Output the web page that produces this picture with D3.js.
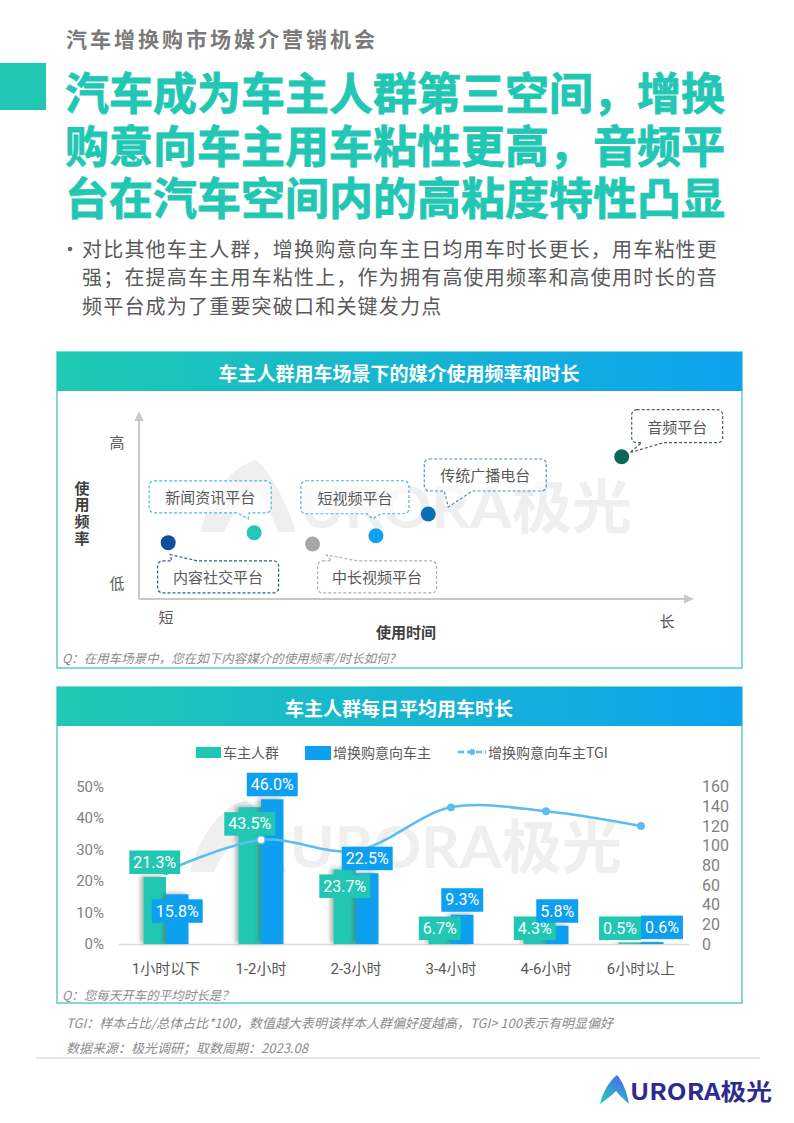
<!DOCTYPE html>
<html>
<head>
<meta charset="utf-8">
<script src="https://cdn.jsdelivr.net/npm/d3@7"></script>
<style>
  body { margin: 0; background: #fff; }
  svg { display: block; font-family: "Noto Sans CJK SC", sans-serif; }
</style>
</head>
<body>
<svg id="page"></svg>
<script>
  // ---- data: scatter (media usage while driving) ----
  var mediaNames = ['内容社交平台', '新闻资讯平台', '中长视频平台', '短视频平台', '传统广播电台', '音频平台'];
  var useTime = [5.3, 20.9, 31.5, 43, 52.5, 87.6];   // 使用时间 (relative)
  var useFreq = [30.3, 35.6, 29.6, 34, 45.7, 76.5];  // 使用频率 (relative)

  // ---- data: bars (daily driving time) ----
  var durations = ['1小时以下', '1-2小时', '2-3小时', '3-4小时', '4-6小时', '6小时以上'];
  var ownerShare = [21.3, 43.5, 23.7, 6.7, 4.3, 0.5];
  var intentShare = [15.8, 46.0, 22.5, 9.3, 5.8, 0.6];
  var intentTGI = [74, 106, 95, 139, 135, 120];
  var pctTicks = [0, 10, 20, 30, 40, 50];
  var tgiTicks = [0, 20, 40, 60, 80, 100, 120, 140, 160];
  var legendNames = ['车主人群', '增换购意向车主', '增换购意向车主TGI'];

  // ---- styles / layout ----
  var teal = '#22c7b4';
  var blue = '#0d9ff0';
  var lineBlue = '#5bbdf0';
  var dotColors = ['#0d4f9e', '#23c8b6', '#a6a6a6', '#11a0ee', '#0b6fb5', '#0c6659'];
  var calloutColors = ['#2e5c99', '#4cc1c4', '#b0b0b0', '#5aaed8', '#5a8cba', '#4d6461'];
  // box relative to dot: [dx, dy, w, h], tail edge, tail base (x from box left), tip relative to dot
  var callouts = [
    { box: [-10.6, 18.3, 121, 32], edge: 'top', base: [14, 40], tip: [2, 12] },
    { box: [-105, -52, 122, 32], edge: 'bottom', base: [88, 100], tip: [-6, -14] },
    { box: [5, 17, 119, 32], edge: 'top', base: [14, 40], tip: [14, 11] },
    { box: [-75, -55, 108, 33], edge: 'bottom', base: [66, 80], tip: [-3, -17] },
    { box: [-4, -55, 122, 32], edge: 'bottom', base: [20, 48], tip: [20, -7] },
    { box: [10, -47, 91, 33], edge: 'bottom', base: [10, 32], tip: [8, -4] }
  ];

  var width = 794;
  var height = 1123;

  var svg = d3.select('#page')
    .attr('width', width)
    .attr('height', height);

  var defs = svg.append('defs');
  var grad = defs.append('linearGradient').attr('id', 'titleGrad');
  grad.append('stop').attr('offset', '0%').attr('stop-color', '#1fc9b2');
  grad.append('stop').attr('offset', '100%').attr('stop-color', '#0ea2ef');

  var logoGrad = defs.append('linearGradient').attr('id', 'logoGrad')
    .attr('x1', '0%').attr('y1', '100%').attr('x2', '60%').attr('y2', '0%');
  logoGrad.append('stop').attr('offset', '0%').attr('stop-color', '#20d6a6');
  logoGrad.append('stop').attr('offset', '100%').attr('stop-color', '#4a6cf0');

  var shadow = defs.append('filter').attr('id', 'barShadow')
    .attr('x', '-40%').attr('y', '-10%').attr('width', '160%').attr('height', '120%');
  shadow.append('feDropShadow')
    .attr('dx', -3).attr('dy', -1).attr('stdDeviation', 2)
    .attr('flood-color', '#555').attr('flood-opacity', 0.45);

  // ---- header ----
  svg.append('text')
    .attr('x', 66).attr('y', 38)
    .attr('dominant-baseline', 'central')
    .style('font-size', '21px').style('font-weight', 'bold')
    .style('letter-spacing', '3px')
    .attr('fill', '#7a7a7a')
    .text('汽车增换购市场媒介营销机会');

  svg.append('rect')
    .attr('x', 0).attr('y', 63).attr('width', 46).attr('height', 47)
    .attr('fill', teal);

  var titleLines = ['汽车成为车主人群第三空间，增换', '购意向车主用车粘性更高，音频平', '台在汽车空间内的高粘度特性凸显'];
  svg.selectAll('text.title')
    .data(titleLines)
    .enter()
    .append('text')
    .attr('class', 'title')
    .attr('x', 65)
    .attr('y', function (d, i) { return 91 + i * 52.5; })
    .attr('dominant-baseline', 'central')
    .style('font-size', '44px').style('font-weight', 'bold')
    .attr('fill', teal)
    .attr('stroke', teal).attr('stroke-width', 0.8)
    .text(function (d) { return d; });

  svg.append('circle')
    .attr('cx', 70).attr('cy', 249).attr('r', 2.3)
    .attr('fill', '#666');
  var bulletLines = ['对比其他车主人群，增换购意向车主日均用车时长更长，用车粘性更',
    '强；在提高车主用车粘性上，作为拥有高使用频率和高使用时长的音',
    '频平台成为了重要突破口和关键发力点'];
  svg.selectAll('text.bullet')
    .data(bulletLines)
    .enter()
    .append('text')
    .attr('class', 'bullet')
    .attr('x', 82)
    .attr('y', function (d, i) { return 248 + i * 28.5; })
    .attr('dominant-baseline', 'central')
    .style('font-size', '20px').style('letter-spacing', '1.2px')
    .attr('fill', '#595959')
    .text(function (d) { return d; });

  // ---- panel frame helper ----
  function panel(top, bottom, title) {
    svg.append('rect')
      .attr('x', 57).attr('y', top).attr('width', 685).attr('height', bottom - top)
      .attr('fill', '#fff').attr('stroke', '#5ccbc4').attr('stroke-width', 1.5);
    svg.append('rect')
      .attr('x', 57).attr('y', top).attr('width', 685).attr('height', 39)
      .attr('fill', 'url(#titleGrad)');
    svg.append('text')
      .attr('x', 399).attr('y', top + 20)
      .attr('text-anchor', 'middle').attr('dominant-baseline', 'central')
      .style('font-size', '19px').style('font-weight', 'bold')
      .attr('fill', '#fff')
      .text(title);
  }

  function watermark(x, baseline) {
    var g = svg.append('g');
    g.append('path')
      .attr('transform', 'translate(' + (x - 100) + ',' + (baseline - 68) + ')')
      .attr('d', 'M0,72 C8,40 28,8 56,0 C70,10 86,42 96,72 L78,72 C70,50 62,36 56,30 C44,40 32,54 24,72 Z')
      .attr('fill', '#efefef');
    g.append('text')
      .attr('x', x).attr('y', baseline)
      .attr('textLength', 332).attr('lengthAdjust', 'spacingAndGlyphs')
      .style('font-size', '58px').style('font-weight', 'bold')
      .style('font-family', 'Lato, "Noto Sans CJK SC", sans-serif')
      .attr('fill', '#efefef')
      .text('URORA极光');
  }

  // ================= chart 1: scatter =================
  panel(352, 668, '车主人群用车场景下的媒介使用频率和时长');
  watermark(300, 528);

  var sx = d3.scaleLinear().domain([0, 100]).range([139, 690]);
  var sy = d3.scaleLinear().domain([0, 100]).range([599, 413]);

  var axisColor = '#c8c8c8';
  var axes = svg.append('g');
  axes.append('line')
    .attr('x1', sx(0)).attr('y1', sy(0)).attr('x2', sx(0)).attr('y2', sy(100) + 6)
    .attr('stroke', axisColor).attr('stroke-width', 2);
  axes.append('path')
    .attr('d', 'M' + (sx(0) - 4.5) + ',' + (sy(100) + 8) + 'L' + sx(0) + ',' + (sy(100) - 2) + 'L' + (sx(0) + 4.5) + ',' + (sy(100) + 8) + 'Z')
    .attr('fill', axisColor);
  axes.append('line')
    .attr('x1', sx(0)).attr('y1', sy(0)).attr('x2', sx(100) - 4).attr('y2', sy(0))
    .attr('stroke', axisColor).attr('stroke-width', 2);
  axes.append('path')
    .attr('d', 'M' + (sx(100) - 6) + ',' + (sy(0) - 4.5) + 'L' + (sx(100) + 4) + ',' + sy(0) + 'L' + (sx(100) - 6) + ',' + (sy(0) + 4.5) + 'Z')
    .attr('fill', axisColor);

  var axisText = [
    { t: '高', x: 117, y: 441 }, { t: '低', x: 117, y: 582 },
    { t: '短', x: 166, y: 616 }, { t: '长', x: 667, y: 620 }
  ];
  axes.selectAll('text.end')
    .data(axisText)
    .enter()
    .append('text')
    .attr('class', 'end')
    .attr('x', function (d) { return d.x; })
    .attr('y', function (d) { return d.y; })
    .attr('text-anchor', 'middle').attr('dominant-baseline', 'central')
    .style('font-size', '15px').attr('fill', '#595959')
    .text(function (d) { return d.t; });

  axes.selectAll('text.ylab')
    .data('使用频率'.split(''))
    .enter()
    .append('text')
    .attr('class', 'ylab')
    .attr('x', 82)
    .attr('y', function (d, i) { return 487 + i * 16.7; })
    .attr('text-anchor', 'middle').attr('dominant-baseline', 'central')
    .style('font-size', '15px').style('font-weight', 'bold')
    .attr('fill', '#404040')
    .text(function (d) { return d; });

  axes.append('text')
    .attr('x', 406).attr('y', 631)
    .attr('text-anchor', 'middle').attr('dominant-baseline', 'central')
    .style('font-size', '15px').style('font-weight', 'bold')
    .attr('fill', '#404040')
    .text('使用时间');

  svg.append('text')
    .attr('x', 62).attr('y', 657)
    .attr('dominant-baseline', 'central')
    .style('font-size', '12.5px').style('font-style', 'italic')
    .attr('fill', '#8c8c8c')
    .text('Q：在用车场景中，您在如下内容媒介的使用频率/时长如何?');

  // callouts
  function calloutPath(cx, cy, c) {
    var x0 = cx + c.box[0], y0 = cy + c.box[1], w = c.box[2], h = c.box[3], r = 5;
    var tx = cx + c.tip[0], ty = cy + c.tip[1];
    var b1 = x0 + c.base[0], b2 = x0 + c.base[1];
    var p = d3.path();
    p.moveTo(x0 + r, y0);
    if (c.edge === 'top') { p.lineTo(b1, y0); p.lineTo(tx, ty); p.lineTo(b2, y0); }
    p.lineTo(x0 + w - r, y0);
    p.arcTo(x0 + w, y0, x0 + w, y0 + r, r);
    p.lineTo(x0 + w, y0 + h - r);
    p.arcTo(x0 + w, y0 + h, x0 + w - r, y0 + h, r);
    if (c.edge === 'bottom') { p.lineTo(b2, y0 + h); p.lineTo(tx, ty); p.lineTo(b1, y0 + h); }
    p.lineTo(x0 + r, y0 + h);
    p.arcTo(x0, y0 + h, x0, y0 + h - r, r);
    p.lineTo(x0, y0 + r);
    p.arcTo(x0, y0, x0 + r, y0, r);
    p.closePath();
    return p.toString();
  }

  var media = svg.selectAll('g.media')
    .data(mediaNames)
    .enter()
    .append('g')
    .attr('class', 'media');

  media.append('path')
    .attr('d', function (d, i) { return calloutPath(sx(useTime[i]), sy(useFreq[i]), callouts[i]); })
    .attr('fill', 'rgba(255,255,255,0.6)')
    .attr('stroke', function (d, i) { return calloutColors[i]; })
    .attr('stroke-width', 1.2)
    .attr('stroke-dasharray', '3,2');

  media.append('text')
    .attr('x', function (d, i) { return sx(useTime[i]) + callouts[i].box[0] + callouts[i].box[2] / 2; })
    .attr('y', function (d, i) { return sy(useFreq[i]) + callouts[i].box[1] + callouts[i].box[3] / 2; })
    .attr('text-anchor', 'middle').attr('dominant-baseline', 'central')
    .style('font-size', '15px').attr('fill', '#595959')
    .text(function (d) { return d; });

  media.append('circle')
    .attr('cx', function (d, i) { return sx(useTime[i]); })
    .attr('cy', function (d, i) { return sy(useFreq[i]); })
    .attr('r', 7.5)
    .attr('fill', function (d, i) { return dotColors[i]; });

  // ================= chart 2: bars + TGI line =================
  panel(687, 1003, '车主人群每日平均用车时长');
  watermark(290, 868);

  var x = d3.scaleBand().domain(durations).range([118.5, 688.5]);
  var yL = d3.scaleLinear().domain([0, 50]).range([944, 786.7]);
  var yR = d3.scaleLinear().domain([0, 160]).range([944, 786.7]);
  var barW = 22.5;

  // legend
  var legend = svg.append('g').attr('transform', 'translate(0,752)');
  legend.append('rect').attr('x', 196).attr('y', -5).attr('width', 25).attr('height', 11).attr('fill', teal);
  legend.append('rect').attr('x', 305).attr('y', -6).attr('width', 26).attr('height', 14).attr('fill', blue);
  legend.append('line').attr('x1', 458).attr('x2', 486).attr('y1', 0).attr('y2', 0)
    .attr('stroke', lineBlue).attr('stroke-width', 2.5).attr('stroke-dasharray', '6,3');
  legend.append('circle').attr('cx', 472).attr('cy', 0).attr('r', 3).attr('fill', lineBlue);
  var legendX = [223, 333, 488];
  legend.selectAll('text')
    .data(legendNames)
    .enter()
    .append('text')
    .attr('x', function (d, i) { return legendX[i]; })
    .attr('y', 0)
    .attr('dominant-baseline', 'central')
    .style('font-size', '14px').attr('fill', '#595959')
    .text(function (d) { return d; });

  // axes
  var axL = svg.append('g')
    .attr('transform', 'translate(104,0)')
    .call(d3.axisLeft(yL).tickValues(pctTicks).tickSize(0).tickPadding(0).tickFormat(function (d) { return d + '%'; }));
  axL.select('.domain').remove();
  axL.selectAll('text').style('font-family', 'Roboto, sans-serif').style('font-size', '15px').attr('fill', '#7f7f7f');

  var axR = svg.append('g')
    .attr('transform', 'translate(702,0)')
    .call(d3.axisRight(yR).tickValues(tgiTicks).tickSize(0).tickPadding(0));
  axR.select('.domain').remove();
  axR.selectAll('text').style('font-family', 'Roboto, sans-serif').style('font-size', '16px').attr('fill', '#7f7f7f');

  var axB = svg.append('g')
    .attr('transform', 'translate(0,944)')
    .call(d3.axisBottom(x).tickSize(0).tickPadding(19));
  axB.select('.domain').attr('stroke', '#dcdcdc').attr('stroke-width', 1.5);
  axB.selectAll('text').style('font-family', 'Roboto, "Noto Sans CJK SC", sans-serif').style('font-size', '15px').attr('fill', '#595959');

  // bars
  var bars = svg.append('g');
  bars.selectAll('rect.owner')
    .data(durations)
    .enter()
    .append('rect')
    .attr('class', 'owner')
    .attr('x', function (d) { return x(d) + x.bandwidth() / 2 - barW; })
    .attr('y', function (d, i) { return yL(ownerShare[i]); })
    .attr('width', barW)
    .attr('height', function (d, i) { return yL(0) - yL(ownerShare[i]); })
    .attr('fill', teal)
    .attr('filter', 'url(#barShadow)');
  bars.selectAll('rect.intent')
    .data(durations)
    .enter()
    .append('rect')
    .attr('class', 'intent')
    .attr('x', function (d) { return x(d) + x.bandwidth() / 2; })
    .attr('y', function (d, i) { return yL(intentShare[i]); })
    .attr('width', barW)
    .attr('height', function (d, i) { return yL(0) - yL(intentShare[i]); })
    .attr('fill', blue)
    .attr('filter', 'url(#barShadow)');

  // TGI line
  var line = d3.line()
    .x(function (d, i) { return x(durations[i]) + x.bandwidth() / 2; })
    .y(function (d) { return yR(d); })
    .curve(d3.curveCatmullRom.alpha(0.5));
  svg.append('path')
    .attr('d', line(intentTGI))
    .attr('fill', 'none')
    .attr('stroke', lineBlue)
    .attr('stroke-width', 2.5);
  svg.selectAll('circle.tgi')
    .data(intentTGI)
    .enter()
    .append('circle')
    .attr('class', 'tgi')
    .attr('cx', function (d, i) { return x(durations[i]) + x.bandwidth() / 2; })
    .attr('cy', function (d) { return yR(d); })
    .attr('r', function (d, i) { return i === 1 ? 4 : 3.2; })
    .attr('fill', function (d, i) { return i === 1 ? '#fff' : lineBlue; })
    .attr('stroke', lineBlue)
    .attr('stroke-width', 1.5);

  // value labels: one label sits above its bar, the other inside its own bar top
  var labelH = 23.5;
  var lab = svg.append('g');
  durations.forEach(function (d, i) {
    var c = x(d) + x.bandwidth() / 2;
    var blueAbove = intentShare[i] >= ownerShare[i] - 3;
    var pair = [
      { v: ownerShare[i], cx: c - barW / 2, color: teal, above: !blueAbove },
      { v: intentShare[i], cx: c + barW / 2, color: blue, above: blueAbove }
    ];
    pair.forEach(function (p) {
      var top = yL(p.v);
      p.bottom = Math.min(p.above ? top - 3 : top + 5 + labelH, 940);
      p.g = lab.append('g');
      p.text = p.g.append('text')
        .attr('text-anchor', 'middle').attr('dominant-baseline', 'central')
        .style('font-family', 'Roboto, sans-serif').style('font-size', '16px')
        .attr('fill', '#fff')
        .text(p.v.toFixed(1) + '%');
      p.w = p.text.node().getComputedTextLength() + 8;
    });
    // both pinned to the floor: set side by side, meeting at the category centre
    if (Math.abs(pair[0].bottom - pair[1].bottom) < 12) {
      pair[0].cx = c - pair[0].w / 2;
      pair[1].cx = c + pair[1].w / 2;
    }
    pair.forEach(function (p) {
      p.g.insert('rect', 'text')
        .attr('x', p.cx - p.w / 2).attr('y', p.bottom - labelH)
        .attr('width', p.w).attr('height', labelH)
        .attr('fill', p.color);
      p.text.attr('x', p.cx).attr('y', p.bottom - labelH / 2);
    });
  });

  svg.append('text')
    .attr('x', 62).attr('y', 994)
    .attr('dominant-baseline', 'central')
    .style('font-size', '12.5px').style('font-style', 'italic')
    .attr('fill', '#8c8c8c')
    .text('Q：您每天开车的平均时长是？');

  // ---- footer ----
  var notes = ['TGI：样本占比/总体占比*100，数值越大表明该样本人群偏好度越高，TGI> 100表示有明显偏好',
    '数据来源：极光调研；取数周期：2023.08'];
  svg.selectAll('text.note')
    .data(notes)
    .enter()
    .append('text')
    .attr('class', 'note')
    .attr('x', 66)
    .attr('y', function (d, i) { return 1022 + i * 25; })
    .attr('dominant-baseline', 'central')
    .style('font-size', '13px').style('font-style', 'italic')
    .attr('fill', '#8c8c8c')
    .text(function (d) { return d; });

  svg.append('line')
    .attr('x1', 36).attr('x2', 760).attr('y1', 1058).attr('y2', 1058)
    .attr('stroke', '#e8e8e8').attr('stroke-width', 2);

  svg.append('path')
    .attr('transform', 'translate(600,1075)')
    .attr('d', 'M0,29 C3,17 9,6 17,0 C22,5 27,17 29,29 C24,24 19,20 16,16 C12,20 6,25 0,29 Z')
    .attr('fill', 'url(#logoGrad)');
  svg.append('text')
    .attr('x', 630).attr('y', 1090)
    .attr('dominant-baseline', 'central')
    .attr('textLength', 142).attr('lengthAdjust', 'spacingAndGlyphs')
    .style('font-size', '23px').style('font-weight', 'bold')
    .attr('fill', '#2d2a92')
    .text('URORA极光');
</script>
</body>
</html>
